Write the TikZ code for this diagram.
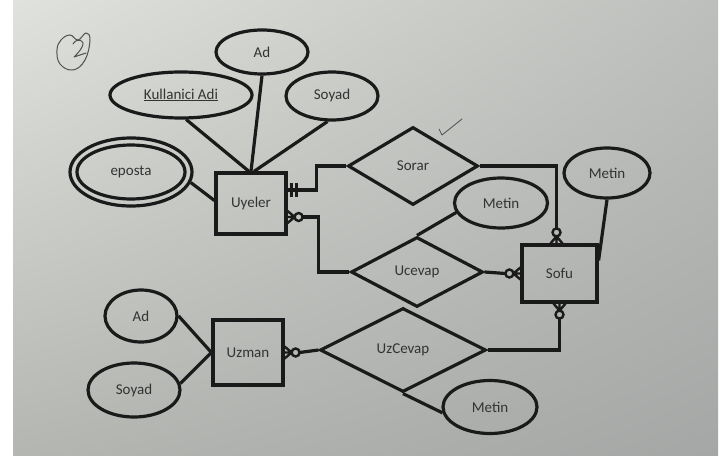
\documentclass[tikz,border=0pt]{standalone}
\usepackage{fontspec}
\setmainfont{Carlito}
\usetikzlibrary{shapes.geometric,calc,shadings}
\definecolor{ink}{HTML}{1A1A1A}
\definecolor{txt}{HTML}{333333}
\definecolor{pen}{HTML}{505050}
\definecolor{paperUL}{RGB}{224,226,221}
\definecolor{paperUR}{RGB}{188,191,187}
\definecolor{paperLL}{RGB}{180,182,178}
\definecolor{paperLR}{RGB}{165,167,166}
\tikzset{
  base/.style={draw=ink, line width=3.2pt, text=txt, inner sep=0pt,
               font=\fontsize{15}{17}\selectfont},
  entity/.style={base, rectangle},
  attr/.style={base, ellipse},
  rel/.style={base, diamond},
  link/.style={draw=ink, line width=3.2pt},
  cardtick/.style={draw=ink, line width=2.4pt},
  % crow's foot with a ring: zero or many
  zeromany/.pic={
    \draw[cardtick] (0,-6) -- (7,0) (0,6) -- (7,0) (0,0) -- (7,0);
    \draw[cardtick] (11,0) circle[radius=4];
  },
  % two bars: one and only one
  onlyone/.pic={
    \draw[cardtick] (4,-7) -- (4,7) (9,-7) -- (9,7);
  }
}
\begin{document}
\begin{tikzpicture}[x=1pt,y=-1pt]
  % sheet of paper
  \fill[white] (0,0) rectangle (727,457);
  \useasboundingbox (0,0) rectangle (727,457);
  \shade[upper left=paperUL, upper right=paperUR,
         lower left=paperLL, lower right=paperLR]
    (13,0) rectangle (718,455);

  % handwritten exercise number
  \draw[pen, line width=1pt, line cap=round]
    plot[smooth cycle, tension=0.7] coordinates
      {(61,40) (70,35) (78,40) (86,33) (90,40) (85,60) (73,70) (60,64) (57,50)};
  \draw[pen, line width=1pt, line cap=round, line join=round]
    (73,44) .. controls (77,37) and (86,40) .. (82,47)
            .. controls (80,51) and (77,54) .. (74,57)
            -- (86,53);
  % check mark
  \draw[pen, line width=0.8pt, line cap=round, line join=round]
    (439,129) -- (442,135) -- (462,119);

  % entities
  \node[entity, minimum width=70, minimum height=61] (uyeler) at (251,203.5) {Uyeler};
  \node[entity, minimum width=75, minimum height=57] (sofu)   at (559.5,273.5) {Sofu};
  \node[entity, minimum width=70, minimum height=65] (uzman)  at (248,352.5) {Uzman};

  % relationships
  \node[rel, minimum width=130, minimum height=78] (sorar)   at (413,166) {Sorar};
  \node[rel, minimum width=132, minimum height=70] (ucevap)  at (417,272) {Ucevap};
  \node[rel, minimum width=166, minimum height=84] (uzcevap) at (403,350) {UzCevap};

  % attributes
  \node[attr, minimum width=92,  minimum height=44] (ad1)    at (262,52) {Ad};
  \node[attr, minimum width=142, minimum height=46] (kadi)   at (181,95) {\underline{Kullanici Adi}};
  \node[attr, minimum width=92,  minimum height=48] (soyad1) at (332,96) {Soyad};
  \node[attr, minimum width=122, minimum height=68] (eposta) at (131,172) {eposta};
  \draw[link] (eposta.center) ellipse[x radius=54, y radius=27];
  \node[attr, minimum width=93,  minimum height=50] (metin1) at (501,203) {Metin};
  \node[attr, minimum width=86,  minimum height=50] (metin2) at (607,173) {Metin};
  \node[attr, minimum width=94,  minimum height=53] (metin3) at (490,407) {Metin};
  \node[attr, minimum width=72,  minimum height=52] (ad2)    at (141,316) {Ad};
  \node[attr, minimum width=92,  minimum height=54] (soyad2) at (134,390) {Soyad};

  % attribute links
  \draw[link] (kadi.-78) -- ($(uyeler.north)+(-2,0)$);
  \draw[link] (ad1.south) -- (uyeler.north);
  \draw[link] (soyad1.-100) -- ($(uyeler.north)+(3,0)$);
  \draw[link] (eposta.-10) -- ($(uyeler.west)+(0,-3)$);
  \draw[link] (ucevap.north) -- (metin1.192);
  \draw[link] (metin2.south) -- ($(sofu.north east)+(0,17)$);
  \draw[link] (uzcevap.south) -- (metin3.187);
  \draw[link] (ad2.east) -- (uzman.west);
  \draw[link] (soyad2.8) -- (uzman.west);

  % cardinality ends
  \coordinate (uA) at ($(uyeler.east)+(0,-13.5)$);
  \coordinate (uB) at ($(uyeler.east)+(0,13.5)$);
  \coordinate (sT) at ($(sofu.north)+(-3,0)$);
  \coordinate (sB) at ($(sofu.south)+(0,0)$);
  \pic at (uA) {onlyone};
  \pic at (uB) {zeromany};
  \pic[rotate=90]  at (sT) {zeromany};
  \pic[rotate=180] at (sofu.west) {zeromany};
  \pic[rotate=-90] at (sB) {zeromany};
  \pic at (uzman.east) {zeromany};

  % relationship links
  \draw[link] (uA) -- ++(29,0) |- (sorar.west);
  \draw[link] (sorar.east) -| ($(sT)+(0,-15)$);
  \draw[link] ($(uB)+(15,0)$) -- ++(16,0) |- (ucevap.west);
  \draw[link] (ucevap.east) -- ($(sofu.west)+(-15,0)$);
  \draw[link] ($(sB)+(0,15)$) |- (uzcevap.east);
  \draw[link] ($(uzman.east)+(15,0)$) -- (uzcevap.west);
\end{tikzpicture}
\end{document}
